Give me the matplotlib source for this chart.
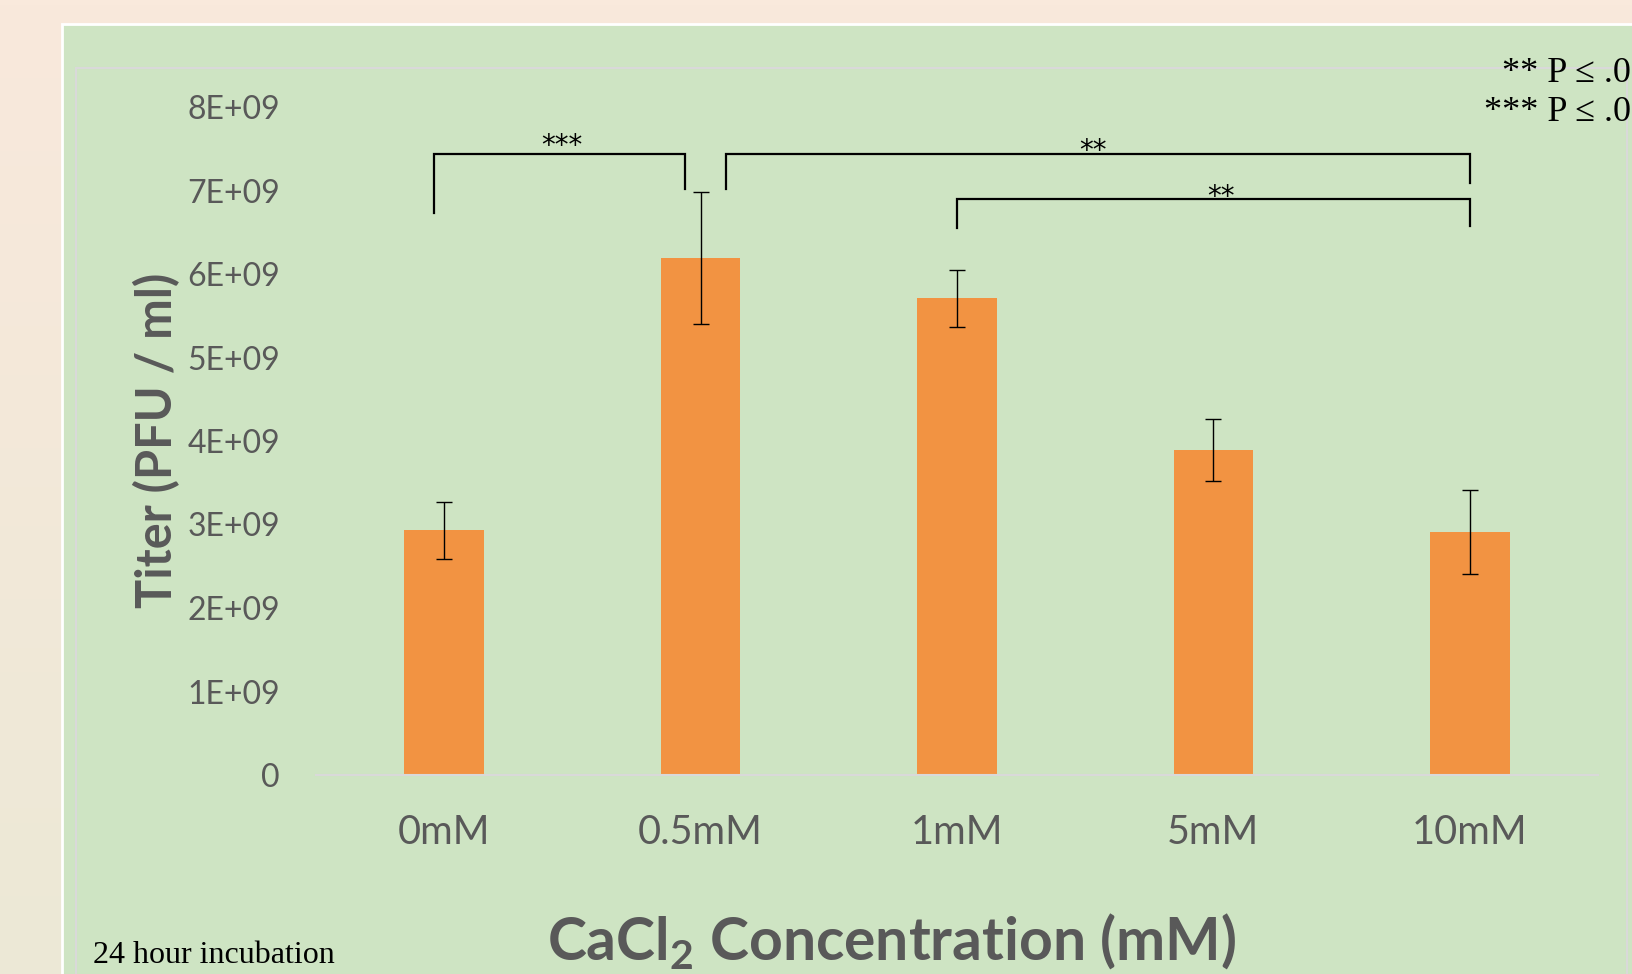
import numpy as np
import matplotlib
matplotlib.use('Agg')
import matplotlib.pyplot as plt
from matplotlib.patches import Rectangle

# data
concs = ['0mM', '0.5mM', '1mM', '5mM', '10mM']
titer = [2.93e9, 6.19e9, 5.71e9, 3.89e9, 2.91e9]
err = [0.34e9, 0.79e9, 0.34e9, 0.37e9, 0.50e9]
yticks = [0, 1e9, 2e9, 3e9, 4e9, 5e9, 6e9, 7e9, 8e9]
ytick_labels = ['0', '1E+09', '2E+09', '3E+09', '4E+09', '5E+09', '6E+09', '7E+09', '8E+09']

# significance brackets: left x, right x, top y, left drop, right drop
br_x0 = [-0.04, 1.10, 2.00]
br_x1 = [0.94, 4.00, 4.00]
br_top = [7.44e9, 7.44e9, 6.90e9]
br_left = [6.73e9, 7.02e9, 6.55e9]
br_right = [7.02e9, 7.09e9, 6.57e9]
br_labels = ['***', '**', '**']
lab_x = [0.46, 2.53, 3.03]
lab_y = [7.44e9, 7.38e9, 6.83e9]

grey = '#595959'
plt.rcParams['mathtext.fontset'] = 'custom'
plt.rcParams['mathtext.rm'] = 'Lato'
plt.rcParams['mathtext.bf'] = 'Lato:bold'

W, H = 1633, 974
fig = plt.figure(figsize=(W / 100, H / 100), dpi=100)

# peachy background gradient
bg = fig.add_axes([0, 0, 1, 1], zorder=-10)
top = np.array([249, 233, 220]) / 255
bot = np.array([236, 232, 214]) / 255
t = np.linspace(0, 1, 200)[:, None]
grad = top[None, :] * (1 - t) + bot[None, :] * t
bg.imshow(np.repeat(grad[:, None, :], 2, axis=1), aspect='auto', extent=[0, 1, 0, 1])
bg.axis('off')

# green panel + chart area border
fig.patches.append(Rectangle((62 / W, -0.05), 1.0, 1 - 24 / H + 0.05, transform=fig.transFigure,
                             facecolor='#CEE4C3', edgecolor='white', lw=2, zorder=-5))
fig.patches.append(Rectangle((76 / W, -0.05), (1627 - 76) / W, 1 - 68 / H + 0.05,
                             transform=fig.transFigure, facecolor='none',
                             edgecolor='#D9D9D9', lw=1.5, zorder=-4))

ax = fig.add_axes([316 / W, (H - 775) / H, (1598 - 316) / W, (775 - 107) / H])
ax.set_facecolor('none')
x = np.arange(len(concs))
ax.bar(x, titer, width=0.31, color='#F29342', zorder=2)
ax.errorbar(x, titer, yerr=err, fmt='none', ecolor='black', elinewidth=1.0,
            capsize=5.8, capthick=1.0, zorder=3)

ax.set_xlim(-0.5, 4.5)
ax.set_ylim(0, 8e9)
ax.set_yticks(yticks)
ax.set_yticklabels(ytick_labels, fontname='Lato', fontsize=23, color=grey)
ax.set_xticks(x)
ax.set_xticklabels(concs, fontname='Lato', fontsize=28.5, color=grey)
ax.tick_params(axis='y', length=0, pad=26)
ax.tick_params(axis='x', length=0, pad=28)
for s in ['top', 'right', 'left']:
    ax.spines[s].set_visible(False)
ax.spines['bottom'].set_color('#D9D9D9')
ax.spines['bottom'].set_linewidth(1.5)

for i in range(len(br_labels)):
    ax.plot([br_x0[i], br_x0[i], br_x1[i], br_x1[i]],
            [br_left[i], br_top[i], br_top[i], br_right[i]],
            color='black', lw=1.6, clip_on=False, solid_joinstyle='miter')
    ax.text(lab_x[i], lab_y[i], br_labels[i], ha='center', va='baseline',
            fontsize=20, fontname='DejaVu Sans', clip_on=False)

fig.text(157 / W, 1 - 440 / H, 'Titer (PFU / ml)', rotation=90, ha='center', va='center',
         fontname='Lato', fontweight='bold', fontsize=35, color=grey)
fig.text(892 / W, 1 - 960 / H, r'CaCl$_\mathbf{2}$ Concentration (mM)', ha='center',
         va='baseline', fontname='Lato', fontweight='bold', fontsize=42.3, color=grey)

fig.text(93 / W, 1 - 963 / H, '24 hour incubation', ha='left', va='baseline',
         fontname='Liberation Serif', fontsize=23, color='black')
fig.text(1631 / W, 1 - 82 / H, '** P ≤ .0', ha='right', va='baseline',
         fontname='Liberation Serif', fontsize=26, color='black')
fig.text(1631 / W, 1 - 121 / H, '*** P ≤ .0', ha='right', va='baseline',
         fontname='Liberation Serif', fontsize=26, color='black')

fig.savefig('out.png', dpi=100)
